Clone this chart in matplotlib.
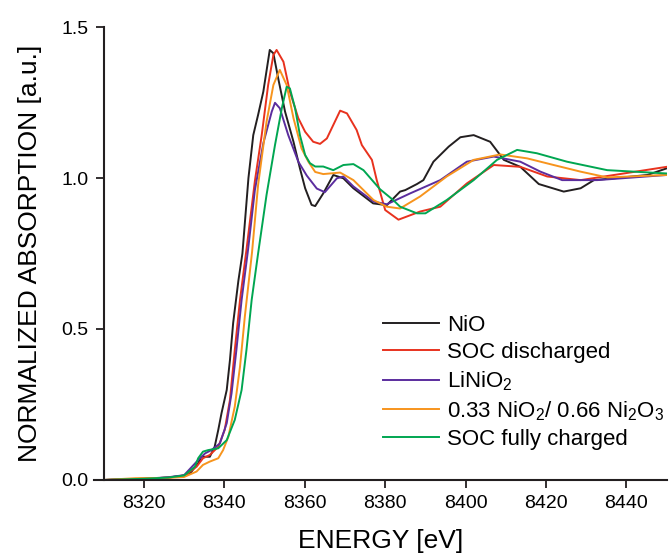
import matplotlib
matplotlib.use('Agg')
import matplotlib.pyplot as plt

plt.rcParams['font.family'] = ['Liberation Sans', 'DejaVu Sans']
plt.rcParams['mathtext.fontset'] = 'custom'
plt.rcParams['mathtext.rm'] = 'Liberation Sans'
plt.rcParams['mathtext.default'] = 'regular'

# Ni K-edge XANES spectra
# ----------------------------------------------------------------------------

e_nio = [8310, 8320, 8326, 8330, 8331.4, 8333.1, 8333.5, 8334.3, 8336.4, 8337.6,
         8338.5, 8339.3, 8340.6, 8341.4, 8342.2, 8343.5, 8344.5, 8346.0,
         8347.2, 8348.4, 8349.7, 8351.3, 8352.2, 8353.4, 8355.1, 8357.2, 8358.8,
         8360.1, 8361.7, 8362.6, 8364.6, 8367.1, 8369.6, 8372.1, 8377.0, 8380.4,
         8383.7, 8385.0, 8387.9, 8389.5, 8392.0, 8395.8, 8398.7, 8402.0, 8406.1,
         8409.5, 8413.6, 8418.2, 8424.4, 8428.6, 8431.9, 8436.9, 8445.2, 8450]
mu_nio = [0.000, 0.004, 0.008, 0.015, 0.020, 0.050, 0.055, 0.077, 0.077, 0.110,
          0.166, 0.221, 0.298, 0.397, 0.520, 0.660, 0.750, 1.000,
          1.142, 1.209, 1.286, 1.424, 1.413, 1.330, 1.220, 1.120, 1.032,
          0.966, 0.911, 0.907, 0.949, 1.010, 0.999, 0.966, 0.916, 0.910,
          0.955, 0.960, 0.980, 0.993, 1.054, 1.104, 1.135, 1.142, 1.120,
          1.060, 1.037, 0.980, 0.955, 0.966, 0.993, 0.999, 1.010, 1.032]

e_dis = [8310, 8320, 8326, 8330, 8333.1, 8334.7, 8336.4, 8338.5, 8340.1, 8341.4,
         8342.6, 8343.9, 8345.5, 8347.6, 8349.3, 8350.9, 8352.2, 8353.0, 8354.7,
         8356.3, 8358.4, 8360.1, 8362.1, 8363.8, 8365.5, 8368.8, 8370.5, 8372.9,
         8374.2, 8376.7, 8377.9, 8380.0, 8383.3, 8388.7, 8393.7, 8400.3, 8407.0,
         8413.6, 8420.3, 8428.6, 8436.9, 8450]
mu_dis = [0.000, 0.004, 0.008, 0.013, 0.044, 0.072, 0.083, 0.110, 0.166, 0.265,
          0.430, 0.596, 0.762, 0.990, 1.142, 1.308, 1.407, 1.424, 1.385,
          1.286, 1.198, 1.153, 1.120, 1.113, 1.131, 1.223, 1.214, 1.159,
          1.109, 1.060, 0.993, 0.894, 0.862, 0.889, 0.905, 0.982, 1.043,
          1.037, 1.005, 0.993, 1.010, 1.037]

e_lno = [8310, 8320, 8326, 8330, 8333.5, 8335.2, 8336.8, 8338.9, 8340.6, 8341.8,
         8343.0, 8344.3, 8345.9, 8347.6, 8349.7, 8351.8, 8352.6, 8353.8, 8355.9,
         8358.4, 8360.5, 8363.0, 8365.0, 8368.0, 8369.6, 8372.1, 8377.1, 8380.4,
         8386.2, 8393.7, 8400.3, 8407.0, 8413.6, 8418.6, 8424.0, 8432.7, 8450]
mu_lno = [0.000, 0.004, 0.009, 0.016, 0.066, 0.088, 0.099, 0.121, 0.188, 0.287,
          0.430, 0.596, 0.762, 0.960, 1.115, 1.220, 1.249, 1.231, 1.142,
          1.054, 1.008, 0.965, 0.953, 0.999, 1.005, 0.972, 0.922, 0.913,
          0.949, 0.993, 1.054, 1.071, 1.054, 1.021, 0.993, 0.993, 1.010]

e_mix = [8310, 8318, 8326, 8330, 8333.1, 8334.7, 8336.4, 8338.5, 8339.7, 8341.0,
         8342.6, 8343.9, 8345.1, 8346.9, 8348.4, 8350.5, 8352.2, 8353.8, 8355.5,
         8357.2, 8359.2, 8360.9, 8362.6, 8364.6, 8368.8, 8372.1, 8377.1, 8380.4,
         8383.7, 8388.7, 8395.3, 8402.0, 8408.6, 8415.3, 8421.9, 8428.6, 8435.2,
         8450]
mu_mix = [0.000, 0.006, 0.007, 0.010, 0.028, 0.050, 0.061, 0.072, 0.099, 0.143,
          0.243, 0.375, 0.541, 0.755, 0.977, 1.186, 1.308, 1.358, 1.308,
          1.198, 1.098, 1.054, 1.020, 1.013, 1.018, 0.993, 0.927, 0.905,
          0.899, 0.939, 1.005, 1.060, 1.078, 1.065, 1.043, 1.021, 1.002,
          1.010]

e_chg = [8310, 8320, 8326, 8330, 8332.7, 8333.5, 8334.7, 8336.0, 8338.5, 8340.6,
         8342.6, 8344.3, 8345.5, 8346.8, 8348.4, 8350.5, 8352.6, 8354.3, 8355.5,
         8356.3, 8357.6, 8358.8, 8360.1, 8361.3, 8362.6, 8364.6, 8367.1, 8369.6,
         8372.1, 8374.6, 8378.7, 8382.0, 8383.7, 8387.9, 8390.0, 8395.3, 8402.0,
         8407.8, 8412.8, 8417.7, 8425.2, 8435.2, 8450]
mu_chg = [0.000, 0.004, 0.008, 0.015, 0.044, 0.072, 0.094, 0.099, 0.105, 0.132,
          0.199, 0.298, 0.430, 0.596, 0.750, 0.944, 1.109, 1.231, 1.302,
          1.297, 1.231, 1.142, 1.076, 1.049, 1.038, 1.038, 1.026, 1.043,
          1.046, 1.026, 0.963, 0.927, 0.905, 0.883, 0.883, 0.927, 0.993,
          1.060, 1.093, 1.082, 1.054, 1.026, 1.015]

labels = ['NiO', 'SOC discharged', r'LiNiO$_2$',
          r'0.33 NiO$_2$/ 0.66 Ni$_2$O$_3$', 'SOC fully charged']
colors = ['#231f20', '#e8321e', '#5b2d9e', '#f7941d', '#00a651']

xticks = [8320, 8340, 8360, 8380, 8400, 8420, 8440]
yticks = [0.0, 0.5, 1.0, 1.5]

# Plot
# ----------------------------------------------------------------------------

fig = plt.figure(figsize=(6.71, 5.58), dpi=100)
ax = fig.add_axes([0.1401, 0.1398, 0.8535, 0.8118])

series = [(e_nio, mu_nio), (e_dis, mu_dis), (e_lno, mu_lno),
          (e_mix, mu_mix), (e_chg, mu_chg)]
for (e, mu), lab, c in zip(series, labels, colors):
    ax.plot(e, mu, color=c, lw=1.4, label=lab, solid_joinstyle='round')

ax.set_xlim(8307.6, 8450)
ax.set_ylim(0, 1.5)
ax.set_xticks(xticks)
ax.set_yticks(yticks)
ax.set_yticklabels(['%.1f' % v for v in yticks])

for side in ['top', 'right']:
    ax.spines[side].set_visible(False)
ax.spines['left'].set_position(('data', 8310))
for side in ['left', 'bottom']:
    ax.spines[side].set_linewidth(1.5)
    ax.spines[side].set_color('#231f20')

ax.tick_params(direction='out', length=6, width=1.3, color='#231f20',
               labelsize=14, pad=5)
ax.set_xlabel('ENERGY [eV]', fontsize=19, labelpad=12)
ax.set_ylabel('NORMALIZED ABSORPTION [a.u.]', fontsize=19, labelpad=14)

ax.legend(loc='upper left', bbox_to_anchor=(383 / 671, 1 - 315 / 558),
          bbox_transform=fig.transFigure, frameon=False, fontsize=16,
          handlelength=2.5, handletextpad=0.4, labelspacing=0.28,
          borderpad=0, borderaxespad=0)

fig.savefig('out.png', dpi=100)
